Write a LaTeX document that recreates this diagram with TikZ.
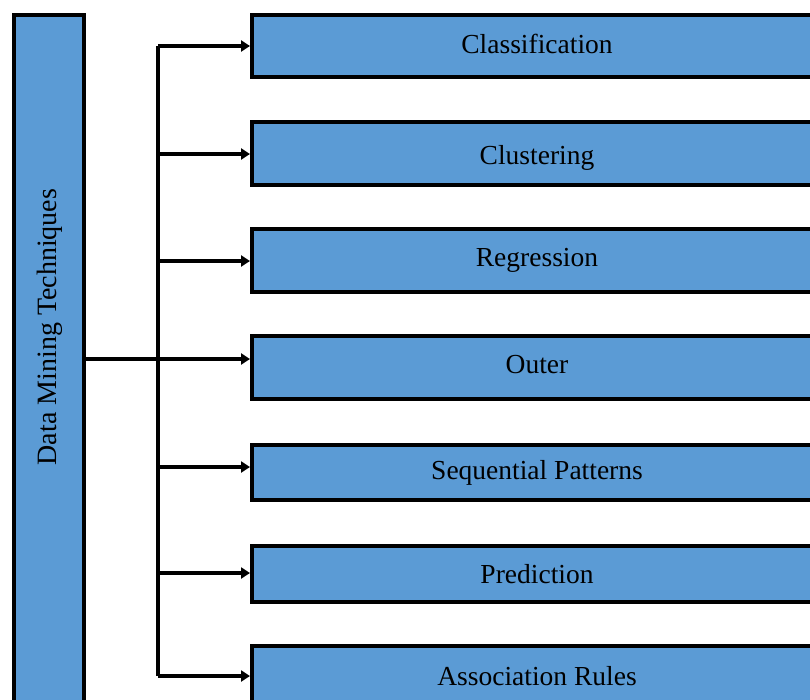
\documentclass[tikz,border=0pt]{standalone}
\usepackage{fontspec}
\setmainfont{Liberation Serif}
\usetikzlibrary{arrows.meta}
\definecolor{boxblue}{HTML}{5B9BD5}
% move a label vertically without changing its box size
\newcommand{\nudge}[2]{\raisebox{#1}[\height][\depth]{#2}}
\begin{document}
\begin{tikzpicture}[x=1pt,y=-1pt,
  techbox/.style={draw=black, line width=4pt, fill=boxblue, rectangle,
    minimum width=570pt, inner sep=0pt, font=\fontsize{27.5}{32}\selectfont},
  link/.style={line width=4pt, draw=black},
  branch/.style={link, -{Triangle[length=9pt,width=11pt]}}]
\useasboundingbox (0,0) rectangle (810,699);
\clip (0,0) rectangle (810,699);

% main technique column
\node[draw=black, line width=4pt, fill=boxblue, minimum width=70pt,
      minimum height=705pt, inner sep=0pt] (L) at (49,367.5) {};
\node[rotate=90, font=\fontsize{28}{32}\selectfont] (Ltext) at (50,327) {Data Mining Techniques};

% technique boxes
\node[techbox, minimum height=62pt] (c1) at (537,46)    {\nudge{2pt}{Classification}};
\node[techbox, minimum height=63pt] (c2) at (537,153.5) {\nudge{-4.5pt}{Clustering}};
\node[techbox, minimum height=63pt] (c3) at (537,260.5) {Regression};
\node[techbox, minimum height=63pt] (c4) at (537,367.5) {\nudge{3pt}{Outer}};
\node[techbox, minimum height=55pt] (c5) at (537,472.5) {Sequential Patterns};
\node[techbox, minimum height=56pt] (c6) at (537,574)   {Prediction};
\node[techbox, minimum height=60pt] (c7) at (537,676)   {Association Rules};

% trunk junctions
\coordinate (t1) at (158,46);
\coordinate (t2) at (158,154);
\coordinate (t3) at (158,261);
\coordinate (t4) at (158,359);
\coordinate (t5) at (158,467);
\coordinate (t6) at (158,573);
\coordinate (t7) at (158,676);

\draw[link] (t1) -- (t7);
\draw[link] (t4 -| L.east) -- (t4);

\draw[branch] (t1) -- (t1 -| c1.west);
\draw[branch] (t2) -- (t2 -| c2.west);
\draw[branch] (t3) -- (t3 -| c3.west);
\draw[branch] (t4) -- (t4 -| c4.west);
\draw[branch] (t5) -- (t5 -| c5.west);
\draw[branch] (t6) -- (t6 -| c6.west);
\draw[branch] (t7) -- (t7 -| c7.west);
\end{tikzpicture}
\end{document}
